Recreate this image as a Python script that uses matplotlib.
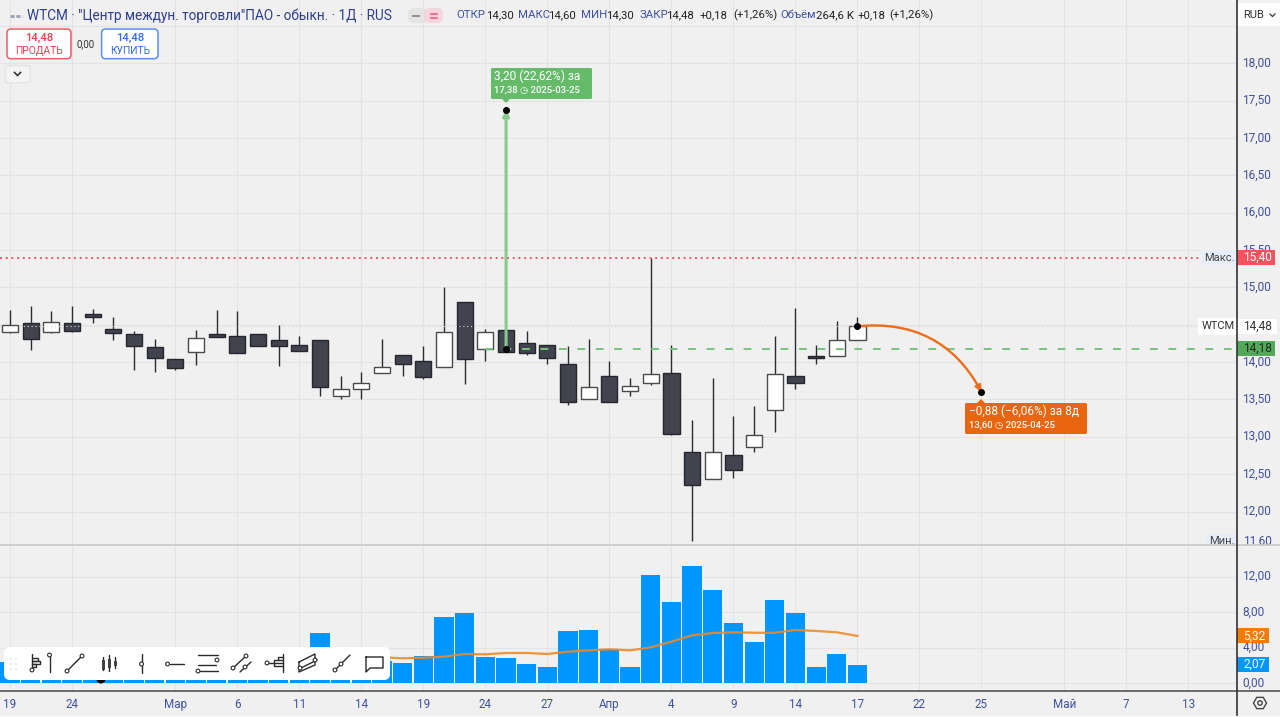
import matplotlib
matplotlib.use('Agg')
import numpy as np
import matplotlib.pyplot as plt
from matplotlib.patches import Rectangle, FancyBboxPatch, FancyArrowPatch, Circle, Polygon, RegularPolygon
from matplotlib.transforms import ScaledTranslation

plt.rcParams['font.family'] = ['Roboto', 'DejaVu Sans']

# Candles, one per trading day
OPEN = [14.40, 14.52, 14.40, 14.52, 14.64, 14.44, 14.38, 14.20, 14.04, 14.14, 14.38, 14.35, 14.38, 14.29,
        14.23, 14.30, 13.55, 13.64, 13.86, 14.10, 14.02, 13.94, 14.80, 14.18, 14.43, 14.26, 14.23, 13.98,
        13.50, 13.81, 13.61, 13.72, 13.86, 12.80, 12.44, 12.76, 12.87, 13.36, 13.81, 14.08, 14.08, 14.30]
HIGH = [14.70, 14.75, 14.69, 14.75, 14.71, 14.61, 14.41, 14.31, 14.04, 14.43, 14.70, 14.69, 14.38, 14.50,
        14.35, 14.30, 13.81, 13.87, 14.31, 14.10, 14.21, 15.01, 14.80, 14.44, 14.43, 14.41, 14.23, 14.21,
        14.31, 14.01, 13.79, 15.40, 14.23, 13.23, 13.79, 13.28, 13.41, 14.35, 14.73, 14.23, 14.55, 14.60]
LOW = [14.39, 14.16, 14.39, 14.40, 14.52, 14.30, 13.89, 13.87, 13.89, 13.96, 14.34, 14.12, 14.21, 13.95,
       14.15, 13.55, 13.50, 13.50, 13.86, 13.81, 13.78, 13.94, 13.71, 14.02, 14.13, 14.10, 13.98, 13.42,
       13.50, 13.47, 13.55, 13.70, 13.03, 11.60, 12.44, 12.45, 12.80, 13.07, 13.64, 13.98, 14.08, 14.30]
CLOSE = [14.50, 14.31, 14.54, 14.42, 14.60, 14.39, 14.22, 14.06, 13.92, 14.32, 14.34, 14.12, 14.22, 14.22,
         14.15, 13.66, 13.64, 13.72, 13.93, 13.98, 13.80, 14.40, 14.04, 14.40, 14.14, 14.12, 14.06, 13.47,
         13.66, 13.47, 13.68, 13.84, 13.04, 12.36, 12.80, 12.56, 13.02, 13.84, 13.72, 14.06, 14.30, 14.48]

# The first 19 volumes sit behind the toolbar, so those are rough guesses
VOLUME = [2.37, 2.1, 2.4, 1.9, 2.6, 2.2, 3.0, 2.5, 1.8, 2.3, 2.9, 2.4, 2.0, 2.6, 1.9, 5.65, 2.2, 1.8, 2.5,
          2.26, 3.08, 7.46, 7.95, 2.97, 2.79, 2.18, 1.81, 5.88, 5.95, 3.84, 1.81, 12.2, 9.19, 13.18, 10.51,
          6.74, 4.67, 9.34, 7.95, 1.81, 3.28, 2.07]
VOLUME_MA = [2.8, 2.8, 2.8, 2.8, 2.8, 2.8, 2.8, 2.8, 2.8, 2.8, 2.8, 2.8, 2.8, 2.8, 2.9, 3.0, 3.0, 2.95, 2.9,
             2.79, 2.86, 2.97, 3.28, 3.24, 3.39, 3.39, 3.28, 3.54, 3.69, 3.81, 3.69, 4.03, 4.67, 5.39, 5.65,
             5.73, 5.68, 5.68, 5.99, 5.88, 5.73, 5.32]

X_TICKS = [0, 3, 8, 11, 14, 17, 20, 23, 26, 29, 32, 35, 38, 41, 44, 47, 51, 54, 57]
X_LABELS = ['19', '24', 'Мар', '6', '11', '14', '19', '24', '27', 'Апр', '4', '9', '14', '17', '22', '25',
            'Май', '7', '13']
PRICE_TICKS = [12.0, 12.5, 13.0, 13.5, 14.0, 14.5, 15.0, 15.5, 16.0, 16.5, 17.0, 17.5, 18.0, 18.5]
VOLUME_TICKS = [0, 4, 8, 12]

LAST_PRICE = 14.48
BID_LEVEL = 14.18
MAX_PRICE = 15.40
MIN_PRICE = 11.60
UP_FROM = (24, 14.18)
UP_TO = (24, 17.38)
DOWN_FROM = (41, 14.48)
DOWN_TO = (47, 13.60)

BG = '#f0f0f0'
GRID = '#e3e3e3'
BLUE_TEXT = '#3f51a0'
DARK = '#41434f'
W, H = 1280, 717
STEP = 20.67
PRICE_PX = 74.7
VOL_PX = 8.85


def fig_box(x0, y0, x1, y1):
    return [x0 / W, 1 - y1 / H, (x1 - x0) / W, (y1 - y0) / H]


fig = plt.figure(figsize=(12.8, 7.17), dpi=100, facecolor=BG)
# scale labels sit a little above their grid lines
label_up = ScaledTranslation(-1 / 100, 1.6 / 100, fig.dpi_scale_trans)

# Price pane
ax = fig.add_axes(fig_box(0, 0, 1236.5, 544), facecolor=BG, zorder=1)
ax.set_xlim(-10 / STEP, (1236.5 - 10) / STEP)
ax.set_ylim(18 - (544 - 63.3) / PRICE_PX, 18 + 63.3 / PRICE_PX)
ax.set_axisbelow(True)
ax.grid(True, color=GRID, lw=0.75)
ax.set_xticks(X_TICKS)
ax.tick_params(axis='x', length=0, labelbottom=False)
ax.yaxis.tick_right()
ax.set_yticks(PRICE_TICKS)
ax.set_yticklabels([f'{p:.2f}'.replace('.', ',') if p < 18.5 else '' for p in PRICE_TICKS])
ax.tick_params(axis='y', length=0, pad=5, labelsize=8.6, labelcolor=BLUE_TEXT)
for lab in ax.get_yticklabels():
    lab.set_transform(lab.get_transform() + label_up)
for s in ax.spines.values():
    s.set_visible(False)

idx = np.arange(len(OPEN))
op, hi, lo, cl = map(np.array, (OPEN, HIGH, LOW, CLOSE))
up = cl > op
ax.vlines(idx, lo, hi, color='#2b2c33', lw=1.0, zorder=3)
ax.bar(idx, np.abs(cl - op), bottom=np.minimum(op, cl), width=0.78,
       color=['white' if u else DARK for u in up],
       edgecolor=['#4a4a4a' if u else '#26272e' for u in up], linewidth=1.0, zorder=4)

ax.hlines(LAST_PRICE, ax.get_xlim()[0], ax.get_xlim()[1], color='#d8d8d8', lw=0.8,
          linestyle=(0, (1, 2.5)), zorder=5)
ax.hlines(MAX_PRICE, ax.get_xlim()[0], 57.6, color='#f0566b', lw=1.4, linestyle=(0, (1, 1.93)), zorder=5)
ax.hlines(BID_LEVEL, 23, ax.get_xlim()[1], color='#79c27f', lw=1.4, linestyle=(0, (4, 5.5)), zorder=5)

# Forecast arrows
ax.annotate('', xy=UP_TO, xytext=UP_FROM, zorder=6,
            arrowprops=dict(arrowstyle='-|>', color='#86c98b', lw=2.2, shrinkA=0, shrinkB=0, mutation_scale=9))
ax.add_patch(FancyArrowPatch(DOWN_FROM, DOWN_TO, connectionstyle='arc3,rad=-0.33', arrowstyle='-|>',
                             mutation_scale=9, color='#ef6c1a', lw=1.7, shrinkA=0, shrinkB=0, zorder=6))
ax.scatter([UP_FROM[0], UP_TO[0], DOWN_FROM[0], DOWN_TO[0]], [UP_FROM[1], UP_TO[1], DOWN_FROM[1], DOWN_TO[1]],
           s=16, color='black', zorder=7)


def tag(a, value, text, fc, tc, width, px):
    # box flush with the scale line, text in the same column as the tick labels
    trans = a.get_yaxis_transform()
    a.add_patch(Rectangle((1.0002, value - 7.5 / px), width / 1236.5, 15 / px, transform=trans, fc=fc, ec='none',
                          clip_on=False, zorder=8))
    a.text(1.0055, value, text, transform=trans, ha='left', va='center', fontsize=8.6, color=tc, zorder=9)


tag(ax, MAX_PRICE, '15,40', '#f9525f', 'white', 38, PRICE_PX)
tag(ax, BID_LEVEL, '14,18', '#53a957', '#1e2a22', 38, PRICE_PX)
tag(ax, LAST_PRICE, '14,48', 'white', '#333333', 40, PRICE_PX)
ax.text(1.0055, MIN_PRICE, '11,60', transform=ax.get_yaxis_transform(), ha='left', va='center', fontsize=8.6,
        color=BLUE_TEXT, zorder=8)
ax.text(0.9985, MAX_PRICE, 'Макс.', transform=ax.get_yaxis_transform(), ha='right', va='center', fontsize=8,
        color='#444444', zorder=8, bbox=dict(boxstyle='square,pad=0.25', fc='#e6eefa', ec='none'))
ax.text(0.9985, LAST_PRICE, 'WTCM', transform=ax.get_yaxis_transform(), ha='right', va='center', fontsize=8,
        color='#333333', zorder=8, bbox=dict(boxstyle='square,pad=0.3', fc='white', ec='none'))
ax.text(0.9985, MIN_PRICE, 'Мин.', transform=ax.get_yaxis_transform(), ha='right', va='center', fontsize=8,
        color='#444444', zorder=8, bbox=dict(boxstyle='square,pad=0.25', fc='#e6eefa', ec='none'))

# Covers the bottom of the min label on the scale
fig.add_artist(Rectangle((1236.5 / W, 0), (W - 1236.5) / W, 1 - 544.5 / H, transform=fig.transFigure,
                         fc=BG, ec='none', zorder=1.5))

# Volume pane
vax = fig.add_axes(fig_box(0, 545, 1236.5, 691), facecolor=BG, zorder=2)
vax.set_xlim(ax.get_xlim())
vax.set_ylim(-8 / VOL_PX, 138 / VOL_PX)
vax.set_axisbelow(True)
vax.grid(True, color=GRID, lw=0.75)
vax.set_xticks(X_TICKS)
vax.set_xticklabels(X_LABELS)
vax.tick_params(axis='x', length=0, pad=5, labelsize=8.4, labelcolor=BLUE_TEXT)
vax.yaxis.tick_right()
vax.set_yticks(VOLUME_TICKS)
vax.set_yticklabels([f'{v:.2f}'.replace('.', ',') for v in VOLUME_TICKS])
vax.tick_params(axis='y', length=0, pad=5, labelsize=8.6, labelcolor=BLUE_TEXT)
for lab in vax.get_yticklabels():
    lab.set_transform(lab.get_transform() + label_up)
for name, s in vax.spines.items():
    s.set_visible(name == 'bottom')
vax.spines['bottom'].set_color('#555555')
vax.spines['bottom'].set_linewidth(1.2)

vax.bar(idx, VOLUME, width=0.93, color='#0096ff', zorder=3)
vax.plot(idx, VOLUME_MA, color='#f08a24', lw=1.6, alpha=0.9, zorder=4)
tag(vax, VOLUME_MA[-1], '5,32', '#f57c00', 'white', 32, VOL_PX)
tag(vax, VOLUME[-1], '2,07', '#0096ff', 'white', 32, VOL_PX)

# Pixel overlay for the terminal chrome
ui = fig.add_axes([0, 0, 1, 1], zorder=3)
ui.set_xlim(0, W)
ui.set_ylim(H, 0)
ui.axis('off')
ui.patch.set_alpha(0)

ui.plot([0, W], [544.5, 544.5], color='#c8c8c8', lw=1.2)
ui.plot([1236.5, W], [690.8, 690.8], color='#555555', lw=1.2)
ui.plot([1236.7, 1236.7], [0, 715], color='#333333', lw=1.2)
ui.add_patch(Rectangle((0, 715.5), W, 2, fc='#fafafa', ec='none'))


def rbox(x0, y0, x1, y1, fc, ec='none', lw=1.0, r=2.0, z=5):
    ui.add_patch(FancyBboxPatch((x0 + r, y0 + r), x1 - x0 - 2 * r, y1 - y0 - 2 * r,
                                boxstyle=f'round,pad={r},rounding_size={r}', fc=fc, ec=ec, lw=lw, zorder=z))


# Header line
HEAD_NAVY = '#2e3f8f'
ui.text(27, 15.5, 'WTCM · "Центр междун. торговли"ПАО - обыкн. · 1Д · RUS', fontsize=9.85, color=HEAD_NAVY,
        va='center')
ui.plot([10, 22], [15.5, 15.5], color='#9aa3b5', lw=2, linestyle=(0, (1.5, 0.6)))
rbox(408, 8, 428, 23, '#e3e3e3', r=6)
rbox(424, 8, 443, 23, '#f6d5de', r=6)
ui.plot([413, 419], [15.5, 15.5], color='#8e8e8e', lw=1.4, zorder=6)
ui.plot([431, 437], [14, 14], color='#ef4f7b', lw=1.1, zorder=6)
ui.plot([431, 437], [17.5, 17.5], color='#ef4f7b', lw=1.1, zorder=6)
for x, s, c in [(456, 'ОТКР', BLUE_TEXT), (486, '14,30', '#222222'), (518, 'МАКС', BLUE_TEXT),
                (548, '14,60', '#222222'), (581, 'МИН', BLUE_TEXT), (606, '14,30', '#222222'),
                (640, 'ЗАКР', BLUE_TEXT), (666.5, '14,48', '#222222'), (700, '+0,18', '#222222'),
                (733, '(+1,26%)', '#222222'), (780, 'Объём', BLUE_TEXT), (815.5, '264,6 K', '#222222'),
                (857.5, '+0,18', '#222222'), (889, '(+1,26%)', '#222222')]:
    ui.text(x, 15.5, s, fontsize=8.2, color=c, va='center')

# Trade buttons
rbox(7, 29, 71, 58.7, 'white', ec='#ef5a6b', lw=1.1, r=4)
ui.text(39, 38, '14,48', fontsize=8.2, color='#ef3b4f', ha='center', va='center', fontweight='medium', zorder=6)
ui.text(39, 51, 'ПРОДАТЬ', fontsize=7.4, color='#ef3b4f', ha='center', va='center', zorder=6)
ui.text(86, 44, '0,00', fontsize=7, color='#333333', ha='center', va='center')
rbox(101.6, 29, 158, 58.7, 'white', ec='#5b8cf0', lw=1.1, r=4)
ui.text(130, 38, '14,48', fontsize=8.2, color='#2f6bec', ha='center', va='center', fontweight='medium', zorder=6)
ui.text(130, 51, 'КУПИТЬ', fontsize=7.4, color='#2f6bec', ha='center', va='center', zorder=6)
rbox(5.3, 65.7, 30, 82.7, '#f4f4f4', ec='#e2e2e2', lw=0.8, r=2)
ui.plot([14.5, 17.5, 20.5], [72.5, 75.5, 72.5], color='#333333', lw=1.2, zorder=6)

# Currency button
ui.add_patch(Rectangle((1238, 3), 42, 23, fc='white', ec='none', zorder=5))
ui.text(1243, 15, 'RUB', fontsize=8, color='#333333', va='center', zorder=6)
ui.plot([1270, 1272.5, 1275], [14, 16.5, 14], color='#333333', lw=0.9, zorder=6)

# Forecast labels
rbox(491, 68, 592, 99, '#66bb6a', r=1.5)
ui.add_patch(Polygon([[501, 98], [511, 98], [506, 103]], fc='#66bb6a', ec='none', zorder=5))
ui.text(494, 76.5, '3,20 (22,62%) за', fontsize=8.6, color='white', va='center', zorder=6)
ui.text(494, 90, '17,38 ◷ 2025-03-25', fontsize=6.8, color='white', va='center', zorder=6, fontweight='medium')
rbox(965, 403, 1087, 434, '#ea6510', r=1.5)
ui.add_patch(Polygon([[976, 404], [986, 404], [981, 399]], fc='#ea6510', ec='none', zorder=5))
ui.text(969, 411.5, '−0,88 (−6,06%) за 8д', fontsize=8.6, color='white', va='center', zorder=6)
ui.text(969, 425, '13,60 ◷ 2025-04-25', fontsize=6.8, color='white', va='center', zorder=6, fontweight='medium')

# Marker that sticks out under the toolbar
ui.add_patch(Circle((101, 679), 4.5, fc='black', ec='none', zorder=4))

# Drawing toolbar
rbox(4, 647, 390, 680, 'white', r=6)
for gx, gy, gc in [(11, 659, '#c9d5e6'), (16, 659, '#f0cbbb'), (11, 664, '#c9d5e6'), (16, 664, '#f0cbbb'),
                   (11, 669, '#f0cbbb'), (16, 669, '#c9d5e6')]:
    ui.add_patch(Circle((gx, gy), 0.8, fc=gc, ec='none', zorder=6))


def seg(xs, ys, lw=1.0, c='#2a2a2a'):
    ui.plot(xs, ys, color=c, lw=lw, zorder=6, solid_capstyle='round')


def knob(x, y, r=1.9):
    ui.add_patch(Circle((x, y), r, fc='white', ec='#2a2a2a', lw=0.8, zorder=7))


# fib bars
seg([32, 32], [654, 669])
seg([32, 38, 38, 32], [658, 658, 661, 661])
seg([32, 40, 40, 32], [661, 661, 664, 664])
seg([32, 36, 36, 32], [664, 664, 667, 667])
knob(32, 670)
# ray
seg([49.5, 49.5], [656, 672])
knob(49.5, 655)
# trend line
seg([67, 82], [671, 656])
knob(67, 671)
knob(82, 656)
# candles icon
for cx, y0, y1, b0, b1 in [(103, 657, 670, 660, 669), (109, 655, 671, 659, 667), (115, 657, 668, 661, 665)]:
    seg([cx, cx], [y0, y1])
    ui.add_patch(Rectangle((cx - 1.3, b0), 2.6, b1 - b0, fc='#444444', ec='#222222', lw=0.5, zorder=6))
# vertical line
seg([141.5, 141.5], [654, 673])
knob(141.5, 664)
# horizontal ray
seg([170, 184], [664, 664])
knob(167.5, 664)
# parallel lines
seg([198, 218], [655, 655])
seg([198, 216], [665, 665])
seg([200, 218], [671, 671])
knob(217, 660)
knob(198, 671)
# channel
seg([233, 246], [668, 656])
seg([240, 251], [672, 662])
knob(233, 668)
knob(246, 656)
knob(245, 667)
# fan
seg([283, 283], [654, 672])
seg([269, 283], [663, 663])
seg([274, 274, 283], [663, 660, 660])
seg([278, 278, 283], [660, 657, 657])
seg([274, 274, 283], [663, 666, 666])
knob(267, 663)
# parallelogram
seg([299, 315, 315, 299, 299], [662, 654, 665, 672, 662])
seg([301, 317], [668, 660])
knob(300, 668)
knob(315, 660)
# line with midpoint
seg([335, 350], [670, 655])
knob(335, 670)
knob(341, 664)
# comment
seg([366, 383, 383, 370, 366, 366], [657, 657, 668, 668, 672, 657])

# Settings icon
ui.add_patch(RegularPolygon((1260, 703), 6, radius=6.5, orientation=np.pi / 6, fc='none', ec='#444444', lw=1.0))
ui.add_patch(Circle((1260, 703), 2.2, fc='none', ec='#444444', lw=1.0))

fig.savefig('out.png', dpi=100, facecolor=BG)
